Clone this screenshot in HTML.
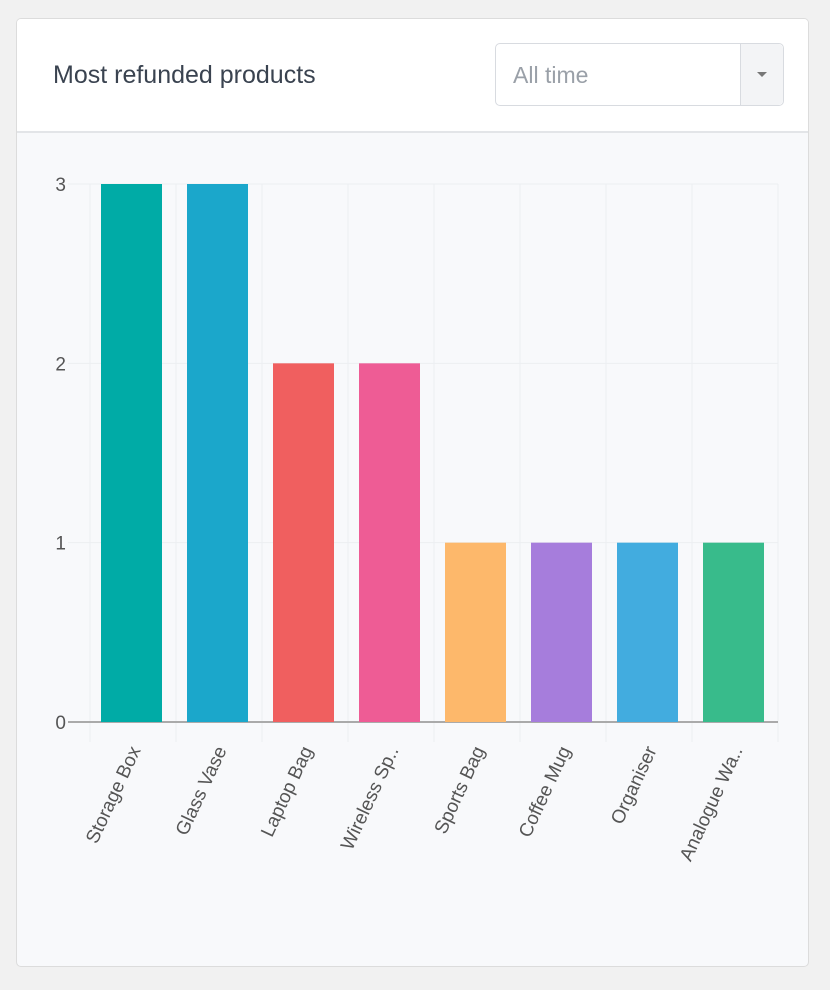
<!DOCTYPE html>
<html><head><meta charset="utf-8"><style>
body{margin:0;width:830px;height:990px;background:#f1f1f1;font-family:"Liberation Sans",sans-serif;position:relative;overflow:hidden}
.card{position:absolute;left:16px;top:18px;width:791px;height:947px;background:#f8f9fb;border:1px solid #dcdcdc;border-radius:5px;overflow:hidden}
.hdr{position:absolute;left:0;top:0;width:791px;height:112px;background:#fff;border-bottom:2px solid #e3e5e8}
.title{position:absolute;left:36px;top:42px;font-size:25px;color:#3a4350}
.sel{position:absolute;left:478px;top:24px;width:287px;height:61px;border:1px solid #d8dbe0;border-radius:5px;background:#fff}
.sel span{position:absolute;left:17px;top:18px;font-size:23px;color:#9aa0a8}
.arr{position:absolute;right:0;top:0;width:42px;height:61px;border-left:1px solid #d8dbe0;background:#f3f4f6;border-radius:0 5px 5px 0}
.arr:after{content:"";position:absolute;left:16px;top:28px;border-left:5px solid transparent;border-right:5px solid transparent;border-top:5px solid #777}
svg{position:absolute;left:0;top:0}
</style></head><body>
<div class="card">
<div class="hdr">
<div class="title">Most refunded products</div>
<div class="sel"><span>All time</span><div class="arr"></div></div>
</div></div>
<svg id="ch" width="830" height="990"></svg>
<script>
const categories=["Storage Box","Glass Vase","Laptop Bag","Wireless Sp..","Sports Bag","Coffee Mug","Organiser","Analogue Wa.."];
const values=[3,3,2,2,1,1,1,1];
const colors=["#00aba6","#1ba7cb","#f05f5f","#ee5c95","#fdb86b","#a67ddc","#42acdf","#38bb8b"];
const yTicks=[0,1,2,3];
const svg=document.getElementById('ch');const NS="http://www.w3.org/2000/svg";
const x0=90,slot=86,yBase=722,yTop=184,yMax=3;
const y=v=>yBase-(v/yMax)*(yBase-yTop);
function mk(t,a,p){const e=document.createElementNS(NS,t);for(const k in a)e.setAttribute(k,a[k]);(p||svg).appendChild(e);return e;}
for(let i=0;i<=categories.length;i++){const g=mk('line',{x1:x0+i*slot,x2:x0+i*slot,y1:yTop,y2:yBase+20,stroke:'#eceef1','stroke-width':1});}
yTicks.forEach(t=>{const g=mk('line',{x1:68,x2:778,y1:y(t),y2:y(t),stroke:t?'#eceef1':'#aaa','stroke-width':t?1:2});
const l=mk('text',{x:66,y:y(t)+7,'text-anchor':'end','font-size':19,fill:'#555'});l.textContent=t;});
categories.forEach((c,i)=>{const b=mk('rect',{x:x0+i*slot+11,y:y(values[i]),width:61,height:yBase-y(values[i]),fill:colors[i]});
const cx=x0+i*slot+slot/2+8;const l=mk('text',{x:cx,y:750,'text-anchor':'end','font-size':19,fill:'#555',transform:`rotate(-65 ${cx} 750)`});l.textContent=c;});
</script>
</body></html>
